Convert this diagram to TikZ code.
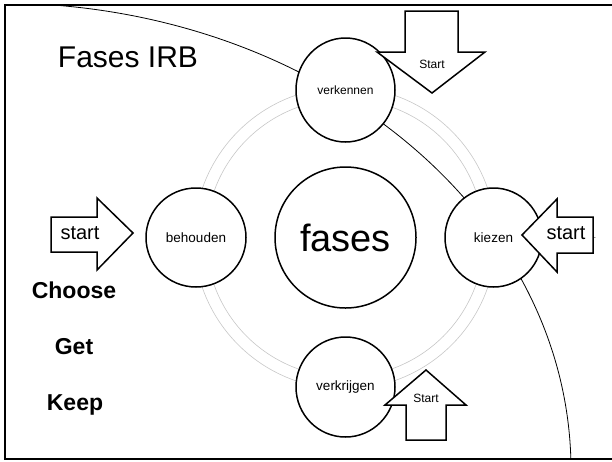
\documentclass[tikz,border=0pt]{standalone}
\usepackage{fontspec}
\setmainfont{Liberation Sans}
\usetikzlibrary{shapes.geometric}

\begin{document}
\begin{tikzpicture}[x=1pt, y=-1pt,
  fase/.style={ellipse, draw, fill=white, line width=1.5pt, inner sep=0pt},
  pijl/.style={draw, fill=white, line width=1.5pt, line join=miter},
  ring/.style={draw=black!22, line width=0.6pt}]

\useasboundingbox (0,0) rectangle (612,461);

\draw[ring] (345,238) circle (151);
\draw[ring] (345,238) circle (139);

\begin{scope}
\clip (5,5) rectangle (612,459);
\draw[line width=0.8pt] (0,470) ellipse (571 and 467);
\end{scope}

\node[fase, minimum width=99pt, minimum height=104pt, font=\fontsize{12}{14}\selectfont] (verkennen) at (345.5,90) {verkennen};
\node[fase, minimum width=141pt, minimum height=141pt, font=\fontsize{38}{44}\selectfont] (fases) at (345.5,237.5) {fases};
\node[fase, minimum width=100pt, minimum height=99pt, font=\fontsize{13.5}{16}\selectfont] (behouden) at (196,237.5) {behouden};
\node[fase, minimum width=97pt, minimum height=99pt, font=\fontsize{13.5}{16}\selectfont] (kiezen) at (493.5,237.5) {kiezen};
\node[fase, minimum width=99pt, minimum height=100pt, font=\fontsize{13.5}{16}\selectfont] (verkrijgen) at (345.5,387) {verkrijgen};

\draw[pijl] (405,11) -- (458,11) -- (458,52) -- (485,52) -- (432,93) -- (377,52) -- (405,52) -- cycle;
\draw[pijl] (406,440) -- (446,440) -- (446,405) -- (466,405) -- (426,370) -- (385,405) -- (406,405) -- cycle;
\draw[pijl] (51,217) -- (97,217) -- (97,198) -- (133,233) -- (97,270) -- (97,252) -- (51,252) -- cycle;
\draw[pijl] (593,217) -- (557,217) -- (557,199) -- (522,235) -- (557,272) -- (557,253) -- (593,253) -- cycle;

\node[font=\fontsize{12}{14}\selectfont] (startboven) at (432,64) {Start};
\node[font=\fontsize{12}{14}\selectfont] (startonder) at (426,398) {Start};
\node[font=\fontsize{20}{24}\selectfont] (startlinks) at (80,233) {start};
\node[font=\fontsize{20}{24}\selectfont] (startrechts) at (566,233) {start};
\node[font=\fontsize{8}{10}\selectfont, inner sep=0pt] (punt) at (595,238) {.};

\node[font=\fontsize{30}{36}\selectfont] (titel) at (128,57) {Fases IRB};
\node[font=\fontsize{23}{28}\selectfont\bfseries] (choose) at (74,290) {Choose};
\node[font=\fontsize{23}{28}\selectfont\bfseries] (get) at (74,347) {Get};
\node[font=\fontsize{23}{28}\selectfont\bfseries] (keep) at (75,405) {Keep};

\draw[line width=2.5pt] (612,5) -- (5,5) -- (5,459) -- (612,459);

\end{tikzpicture}
\end{document}
